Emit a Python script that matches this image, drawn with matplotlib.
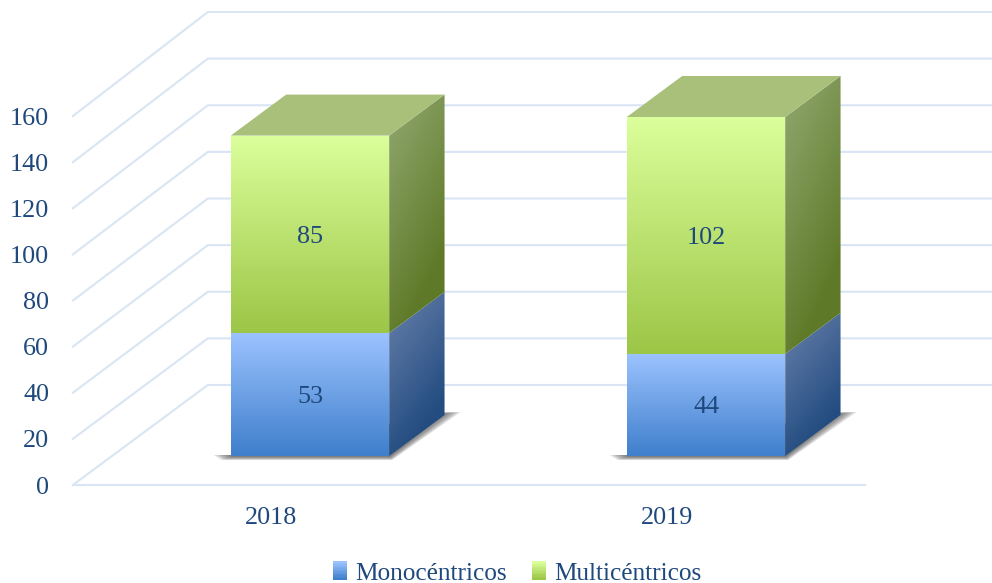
import numpy as np
import matplotlib
matplotlib.use("Agg")
import matplotlib.pyplot as plt
from matplotlib.colors import to_rgb
from matplotlib.legend_handler import HandlerBase
from matplotlib.patches import Polygon, Rectangle
from matplotlib.transforms import IdentityTransform

# datos
years = ["2018", "2019"]
mono = [53, 44]
multi = [85, 102]
yticks = [0, 20, 40, 60, 80, 100, 120, 140, 160]

TEXT = "#1F497D"
GRID = "#D9E5F4"
BLUE_FRONT = ("#9CC3FF", "#3F7FCC")
GREEN_FRONT = ("#DBFF9B", "#9CC646")
BLUE_SIDE = ("#6A82AC", "#234C80")
GREEN_SIDE = ("#93A972", "#5E7A28")
GREEN_TOP = "#A9C07B"
FS = 18.8

plt.rcParams["font.family"] = "Liberation Serif"

fig = plt.figure(figsize=(9.92, 5.83), dpi=100)
W, H = 992, 583
# plano frontal de las barras: 0 en y=456
ax = fig.add_axes([112 / W, (H - 456) / H, 792 / W, 371.5 / H])
ax.set_xlim(-0.5, 1.5)
ax.set_ylim(0, 160)
ax.axis("off")

BAR_W = 0.4
SLOPE = 1.35  # px en x por px de profundidad
BAR_DEPTH = 41
WALL_DEPTH = 71
FLOOR_DEPTH = -29
WALL_SCALE = 1.004
FLOOR_SCALE = 0.993


def project(x, v, depth=0, shrink=1.0):
    # pasa de datos a pixeles, desplazado en profundidad
    px, py = ax.transData.transform((x, v))
    base = ax.transData.transform((x, 0))[1]
    py = base + (py - base) * shrink
    return px + depth * SLOPE, py + depth


def gradient(corners, c0, c1, direction, zorder, gain=1.0):
    corners = np.array(corners)
    x0, y0 = corners.min(axis=0)
    x1, y1 = corners.max(axis=0)
    xx, yy = np.meshgrid(np.linspace(0, 1, 80), np.linspace(0, 1, 200))
    t = xx * direction[0] + yy * direction[1]
    t = np.clip((t - t.min()) / (t.max() - t.min()) * gain, 0, 1)
    a, b = np.array(to_rgb(c0)), np.array(to_rgb(c1))
    img = a + (b - a) * t[..., None]
    inv = ax.transData.inverted()
    d0 = inv.transform((x0, y0))
    d1 = inv.transform((x1, y1))
    im = ax.imshow(img, extent=(d0[0], d1[0], d0[1], d1[1]), origin="upper",
                   aspect="auto", zorder=zorder, interpolation="bilinear")
    im.set_clip_box(fig.bbox)
    im.set_clip_path(Polygon(corners, transform=IdentityTransform()))


def poly(corners, **kw):
    p = Polygon(corners, transform=IdentityTransform(), clip_on=False, **kw)
    ax.add_patch(p)


# rejilla
for v in yticks:
    xs = [project(-0.5, v, FLOOR_DEPTH, FLOOR_SCALE), project(-0.5, v, WALL_DEPTH, WALL_SCALE),
          project(1.5, v, WALL_DEPTH, WALL_SCALE)]
    ax.plot(*zip(*xs), color=GRID, lw=1.5, transform=IdentityTransform(), clip_on=False, zorder=1)
    tx, ty = project(-0.5, v, FLOOR_DEPTH, FLOOR_SCALE)
    ax.text(49, ty, str(v), color=TEXT, fontsize=FS, ha="right", va="center_baseline",
            transform=IdentityTransform())
floor = [project(-0.5, 0, FLOOR_DEPTH), project(1.5, 0, FLOOR_DEPTH)]
ax.plot(*zip(*floor), color=GRID, lw=1.5, transform=IdentityTransform(), clip_on=False, zorder=1)

# barras
for i, year in enumerate(years):
    left, right = i - BAR_W / 2, i + BAR_W / 2

    # sombra en el suelo
    bl = project(left, 0)
    br = project(right, 0)
    bb = project(right, 0, BAR_DEPTH)
    for g in range(6):
        poly([(bl[0] - 17 + 3 * g, bl[1] + 1), (bl[0] - 9 + 2 * g, bl[1] - 4 + 0.6 * g),
              (br[0] + 3 - 0.5 * g, br[1] - 4 + 0.6 * g),
              (bb[0] + 16 - 3 * g, bb[1] + 3 - 0.3 * g), (bb[0], bb[1] + 3 - 0.3 * g),
              (bl[0], bl[1] + 1)],
             facecolor="#444444", edgecolor="none", alpha=0.17, zorder=2)

    bottom = 0
    stacks = [(mono[i], BLUE_FRONT, BLUE_SIDE), (multi[i], GREEN_FRONT, GREEN_SIDE)]
    for val, front, side in stacks:
        top = bottom + val
        a, b = project(left, bottom), project(right, bottom)
        c, d = project(right, top), project(left, top)
        gradient([project(right, bottom), project(right, bottom, BAR_DEPTH),
                  project(right, top, BAR_DEPTH), project(right, top)],
                 side[0], side[1], (0.45, 1.0), 3, gain=1.3)
        gradient([a, b, c, d], front[0], front[1], (0.0, 1.0), 4)
        cx, cy = project(i, bottom + val / 2)
        ax.text(cx, cy, str(val), color=TEXT, fontsize=FS, ha="center", va="center_baseline",
                transform=IdentityTransform(), zorder=6)
        bottom = top

    # cara superior
    poly([project(left, bottom), project(right, bottom),
          project(right, bottom, BAR_DEPTH), project(left, bottom, BAR_DEPTH)],
         facecolor=GREEN_TOP, edgecolor="none", zorder=4)

    lx, ly = project(i, 0, FLOOR_DEPTH)
    ax.text(lx, ly - 30, year, color=TEXT, fontsize=FS, ha="center", va="center_baseline",
            transform=IdentityTransform())


class GradientHandle(HandlerBase):
    def __init__(self, colors):
        super().__init__()
        self.colors = colors

    def create_artists(self, legend, orig, xd, yd, width, height, fontsize, trans):
        a, b = np.array(to_rgb(self.colors[0])), np.array(to_rgb(self.colors[1]))
        n = 13
        out = []
        for k in range(n):
            col = a + (b - a) * k / (n - 1)
            r = Rectangle((-xd, -yd + height * (n - 1 - k) / n), width, height / n + 0.3,
                          facecolor=col, edgecolor="none", transform=trans)
            out.append(r)
        return out


h1 = Rectangle((0, 0), 1, 1)
h2 = Rectangle((0, 0), 1, 1)
fig.legend([h1, h2], ["Monocéntricos", "Multicéntricos"], loc="lower center",
           bbox_to_anchor=(517 / W, -0.042), ncol=2, frameon=False, fontsize=18.2, labelcolor=TEXT,
           handlelength=0.58, handleheight=0.75, handletextpad=0.3, columnspacing=1.0,
           handler_map={h1: GradientHandle(BLUE_FRONT), h2: GradientHandle(GREEN_FRONT)})

fig.savefig("out.png", dpi=100)
